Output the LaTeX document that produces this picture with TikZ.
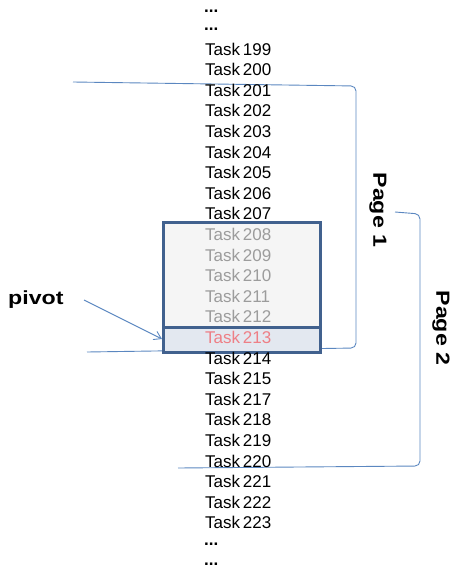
\documentclass[tikz,border=0pt]{standalone}
\usepackage{fontspec}
\setmainfont{Liberation Sans}
\usetikzlibrary{arrows.meta}
\definecolor{brk}{HTML}{5B87C0}
\definecolor{boxline}{HTML}{41618E}
\definecolor{boxfill}{HTML}{F5F5F5}
\definecolor{selfill}{HTML}{E3E8F0}
\definecolor{fade}{HTML}{9C9C9C}
\definecolor{pivred}{HTML}{EE7F86}
\begin{document}
\begin{tikzpicture}[x=1pt,y=-1pt,
  task/.style={anchor=west,inner sep=0pt,font=\fontsize{17}{19}\selectfont},
  dots/.style={anchor=west,inner sep=0pt,font=\fontsize{17}{19}\selectfont\bfseries},
  bracket/.style={draw=brk,line width=0.9pt,rounded corners=5pt},
  lbl/.style={font=\fontsize{19}{21}\selectfont\bfseries,inner sep=0pt}]
\useasboundingbox (0,0) rectangle (450,575);
% brackets (behind the box)
\coordinate (p1a) at (73,82);
\coordinate (p1b) at (87,352);
\draw[bracket] (p1a) -- (356,86) -- (356,348) -- (p1b);
\coordinate (p2a) at (395,212);
\coordinate (p2b) at (178,468);
\draw[bracket] (p2a) -- (420,214) -- (420,466) -- (p2b);
% box
\fill[boxfill] (163,222) rectangle (320,327);
\fill[selfill] (163,327) rectangle (320,352);
\draw[boxline,line width=3pt] (163,222) rectangle (320,352);
\draw[boxline,line width=3pt] (163,327) -- (320,327);
\coordinate (sel) at (162,339);
% texts
\node[dots] (d1) at (204,11) {...};
\node[dots] (d2) at (204,29) {...};
\foreach \n [count=\i from 0] in {199,200,201,202,203,204,205,206,207}{
  \node[task] (t\n) at (205,49+20.6*\i) {Task\,\n};
}
\foreach \n [count=\i from 9] in {208,209,210,211,212}{
  \node[task,text=fade] (t\n) at (205,49+20.6*\i) {Task\,\n};
}
\node[task,text=pivred] (t213) at (205,49+20.6*14) {Task\,213};
\foreach \n [count=\i from 15] in {214,215,217,218,219,220,221,222,223}{
  \node[task] (t\n) at (205,49+20.6*\i) {Task\,\n};
}
\node[dots] (d3) at (204,544) {...};
\node[dots] (d4) at (204,564) {...};
% labels
\node[lbl,rotate=-90] (page1) at (378,210) {\scalebox{1.22}[1]{Page 1}};
\node[lbl,rotate=-90] (page2) at (441,328) {\scalebox{1.22}[1]{Page 2}};
\node[lbl,anchor=west] (pivot) at (8,300) {\scalebox{1.22}[1]{pivot}};
\draw[brk,line width=0.9pt,-{Straight Barb[length=7pt,width=9pt]}] (84,300) -- (sel);
\end{tikzpicture}
\end{document}
